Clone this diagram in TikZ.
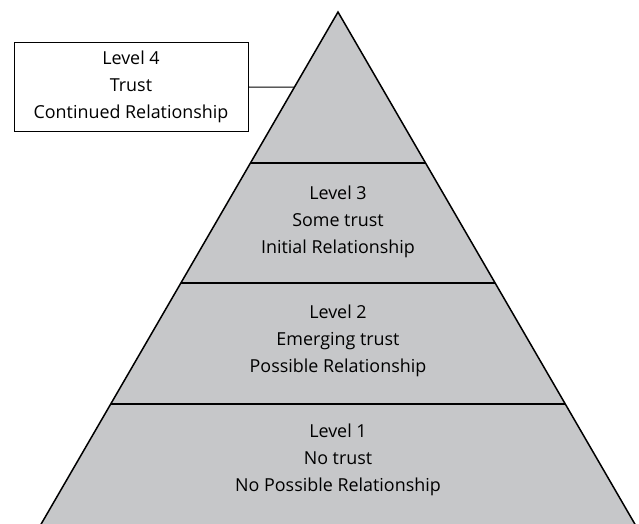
\documentclass[tikz,border=0pt]{standalone}
\usepackage{fontspec}
\setmainfont{Open Sans}
\usepackage{xcolor}
\usepackage{tikz}
\usetikzlibrary{positioning, calc}

\definecolor{pyrgray}{RGB}{198,199,201}

\begin{document}
\begin{tikzpicture}[x=1pt, y=-1pt, node distance=119pt]
\tikzstyle{level} = [align=center, font=\fontsize{17.9}{26.7}\selectfont, text=black]
\tikzstyle{edge} = [line width=1.5pt, line join=miter]
\tikzstyle{divider} = [line width=2pt]
\tikzstyle{labelbox} = [rectangle, draw=black, line width=0.9pt, minimum width=234pt, minimum height=89pt, level]
\tikzstyle{link} = [line width=1pt]

\useasboundingbox (0,0) rectangle (639,524);

% pyramid
\coordinate (apex) at (338,12);
\coordinate (baseL) at (40,526);
\coordinate (baseR) at (636,526);
\fill [pyrgray] (baseL) -- (apex) -- (baseR) -- cycle;
\draw [edge] (baseL) -- (apex) -- (baseR);

% dividers between levels
\foreach \t in {0.2930, 0.5273, 0.7617}
  \draw [divider] ($(apex)!\t!(baseL)$) -- ($(apex)!\t!(baseR)$);

\node (lvl3) [level] at (338,222) {Level 3\\Some trust\\Initial Relationship};
\node (lvl2) [level, below of=lvl3] {Level 2\\Emerging trust\\Possible Relationship};
\node (lvl1) [level, below of=lvl2] {Level 1\\No trust\\No Possible Relationship};

% top level callout
\node (lvl4) [labelbox] at (131,87) {Level 4\\Trust\\Continued Relationship};
\coordinate (tip) at ($(apex)!0.146!(baseL)$);
\draw [link] (lvl4.east) -- (tip);
\end{tikzpicture}
\end{document}
